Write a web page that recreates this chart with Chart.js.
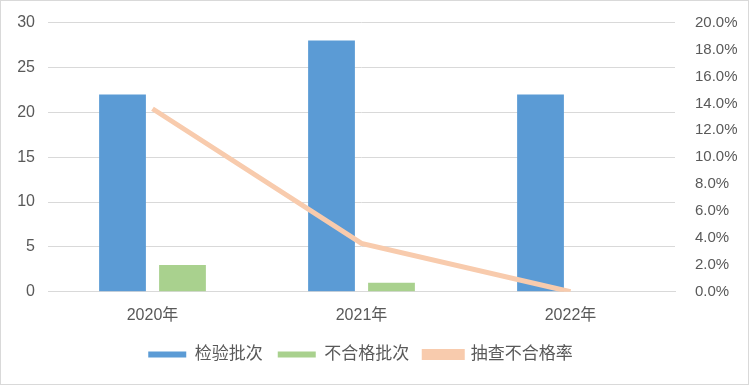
<!DOCTYPE html>
<html>
<head>
<meta charset="utf-8">
<script src="https://cdn.jsdelivr.net/npm/chart.js@4/dist/chart.umd.min.js"></script>
<style>
  html, body { margin: 0; padding: 0; background: #fff; }
  #wrap { width: 749px; height: 385px; }
</style>
</head>
<body>
<div id="wrap"><canvas id="chart" width="749" height="385"></canvas></div>
<script>
// data
const years = ['2020年', '2021年', '2022年'];
const inspected = [22, 28, 22];      // 检验批次
const failed = [3, 1, 0];            // 不合格批次
const failRate = [13.6, 3.6, 0];     // 抽查不合格率 (%)

const font = "'Liberation Sans', 'Noto Sans CJK SC', sans-serif";
const tickColor = '#595959';
const gridColor = '#D9D9D9';

// thin grey frame round the whole chart, legend nudged a bit left like the original
const frame = {
  id: 'frame',
  afterLayout(chart) {
    if (chart.legend) {
      chart.legend.left -= 14;
      chart.legend.right -= 14;
    }
  },
  afterDraw(chart) {
    const c = chart.ctx;
    c.save();
    c.strokeStyle = '#D9D9D9';
    c.lineWidth = 1;
    c.strokeRect(0.5, 0.5, chart.width - 1, chart.height - 1);
    c.restore();
  }
};

const ctx = document.getElementById('chart').getContext('2d');
new Chart(ctx, {
  type: 'bar',
  data: {
    labels: years,
    datasets: [
      {
        label: '检验批次',
        data: inspected,
        backgroundColor: '#5B9BD5',
        yAxisID: 'y',
        order: 2,
        categoryPercentage: 0.574,
        barPercentage: 0.78
      },
      {
        label: '不合格批次',
        data: failed,
        backgroundColor: '#A9D18E',
        yAxisID: 'y',
        order: 2,
        categoryPercentage: 0.574,
        barPercentage: 0.78
      },
      {
        type: 'line',
        label: '抽查不合格率',
        data: failRate,
        borderColor: '#F8CBAD',
        backgroundColor: '#F8CBAD',
        borderWidth: 5,
        pointRadius: 0,
        tension: 0,
        yAxisID: 'y1',
        order: 1
      }
    ]
  },
  plugins: [frame],
  options: {
    responsive: false,
    animation: false,
    layout: { padding: { top: 17, left: 0, right: 0, bottom: 12 } },
    plugins: {
      tooltip: { enabled: false },
      legend: {
        position: 'bottom',
        labels: {
          color: tickColor,
          font: { family: font, size: 17 },
          boxWidth: 38,
          boxHeight: 6,
          padding: 15,
          sort: (a, b) => a.datasetIndex - b.datasetIndex
        }
      }
    },
    scales: {
      x: {
        grid: { display: false },
        border: { color: gridColor },
        ticks: { color: tickColor, font: { family: font, size: 16 }, padding: 6 }
      },
      y: {
        position: 'left',
        min: 0,
        max: 30,
        ticks: { stepSize: 5, color: tickColor, font: { family: font, size: 16 }, padding: 13 },
        grid: { color: gridColor, drawTicks: false },
        border: { display: false },
        afterFit(axis) { axis.width = 48; }
      },
      y1: {
        position: 'right',
        min: 0,
        max: 20,
        ticks: {
          stepSize: 2,
          color: tickColor,
          font: { family: font, size: 15 },
          padding: 12,
          callback: v => v.toFixed(1) + '%'
        },
        grid: { display: false },
        border: { display: false },
        afterFit(axis) { axis.width = 74; }
      }
    }
  }
});
</script>
</body>
</html>
